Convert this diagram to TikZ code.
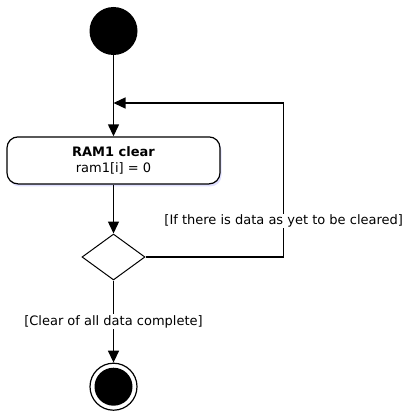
\documentclass[tikz,border=0pt]{standalone}
\usepackage{fontspec}
\setmainfont{DejaVu Sans}
\usetikzlibrary{arrows.meta,shapes.geometric,shadows}
\begin{document}
\begin{tikzpicture}[x=1pt,y=-1pt,
  flow/.style={line width=1.4pt, -{Triangle[length=12pt,width=11pt]}},
  txt/.style={font=\fontsize{13}{16}\selectfont},
  guard/.style={txt, fill=white, inner sep=1pt},
  actbox/.style={draw, line width=1.2pt, rounded corners=11pt, minimum width=213pt, minimum height=47pt, align=center, txt, fill=white,
    drop shadow={shadow xshift=1.5pt, shadow yshift=-2.5pt, fill=blue!25!white, opacity=0.5}},
  decision/.style={diamond, draw, line width=1pt, minimum width=63pt, minimum height=46pt, inner sep=0pt},
]
\useasboundingbox (0,0) rectangle (406,412);
\node[circle, fill=black, minimum size=48pt, inner sep=0pt] (start) at (113.5,31) {};
\node[actbox] (act) at (113.5,160.4) {\textbf{RAM1 clear}\\ram1[i] = 0};
\node[decision] (dec) at (113.5,257) {};
\node[circle, draw, line width=1.2pt, fill=white, minimum size=47pt, inner sep=0pt] (end) at (113.5,386.7) {};
\node[circle, fill=black, minimum size=38pt, inner sep=0pt] (endin) at (end) {};
\coordinate (loop) at (113.5,103);
\coordinate (corner) at (283.7,103);
\draw[flow] (start) -- (act);
\draw[flow] (act) -- (dec);
\draw[flow] (dec.east) -- (dec.east -| corner) -- (corner) -- (loop);
\node[guard] (g1) at (283.7,221) {[If there is data as yet to be cleared]};
\draw[flow] (dec) -- node[guard] (g2) {[Clear of all data complete]} (end);
\end{tikzpicture}
\end{document}
